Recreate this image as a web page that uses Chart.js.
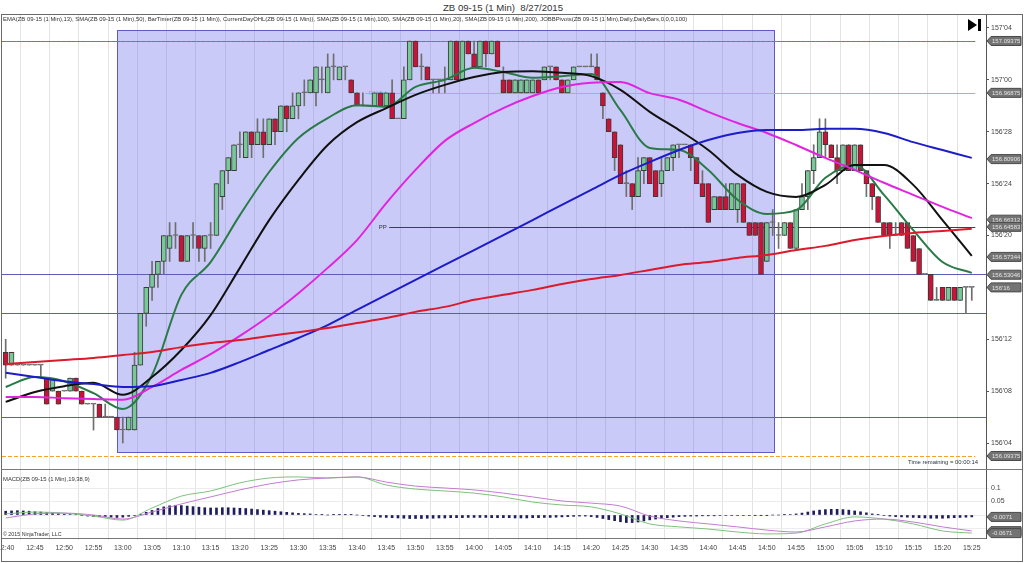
<!DOCTYPE html>
<html>
<head>
<meta charset="utf-8">
<title>ZB 09-15 (1 Min) 8/27/2015</title>
<script src="https://cdn.jsdelivr.net/npm/chart.js@4.4.1/dist/chart.umd.min.js"></script>
<style>
  body { margin: 0; background: #fff; font-family: "Liberation Sans", Arial, sans-serif; color: #333; }
  #page { position: relative; width: 1024px; height: 563px; overflow: hidden; background: #fff; }
  .abs { position: absolute; white-space: nowrap; line-height: 1; }
  .small { font-size: 5.9px; color: #333; }
  canvas { display: block; }
</style>
</head>
<body>
<div id="page">
  <div class="abs" style="left:0;top:3px;width:1006px;text-align:center;font-size:9.6px;color:#333;">ZB 09-15 (1 Min)&nbsp; 8/27/2015</div>
  <div class="abs" style="left:0;top:14px;"><canvas id="priceChart" width="1024" height="455"></canvas></div>
  <div class="abs" style="left:0;top:469px;"><canvas id="macdChart" width="1024" height="94"></canvas></div>
  <div class="abs" style="left:1px;top:14px;width:1020px;height:546px;border:1px solid #6a6a6a;"></div>
  <div class="abs" style="left:1px;top:469px;width:1021px;height:1px;background:#7a7a7a;"></div>
  <div class="abs small" style="left:3px;top:17px;">EMA(ZB 09-15 (1 Min),13), SMA(ZB 09-15 (1 Min),50), BarTimer(ZB 09-15 (1 Min)), CurrentDayOHL(ZB 09-15 (1 Min)), SMA(ZB 09-15 (1 Min),100), SMA(ZB 09-15 (1 Min),20), SMA(ZB 09-15 (1 Min),200), JOBBPivots(ZB 09-15 (1 Min),Daily,DailyBars,0,0,0,100)</div>
  <div class="abs small" style="left:908px;top:460px;">Time remaining = 00:00:14</div>
  <div class="abs small" style="left:3px;top:477px;">MACD(ZB 09-15 (1 Min),19,38,9)</div>
  <div class="abs small" style="left:3px;top:532px;font-size:5.3px;">© 2015 NinjaTrader, LLC</div>
  <div class="abs" style="left:968px;top:19px;width:0;height:0;border-left:9px solid #000;border-top:6px solid transparent;border-bottom:6px solid transparent;"></div>
  <div class="abs" style="left:978px;top:19px;width:3px;height:12px;background:#000;"></div>
</div>
<script>
// ZB 09-15 1 minute bars, 8/27/2015, 12:40 - 15:25
const sessionStart = 12 * 60 + 40;
const basePrice = 156; // candle quotes below are in 32nds above 156'00

// [open, high, low, close] in 32nds, one row per minute from 12:40
const ohlc = [
  [11,12,9,10],[10,11,10,11],[10,10,10,10],[10,10,10,10],[10,10,10,10],[10,10,10,10],[10,10,9,10],[9,9,7,7],
  [8,9,8,9],[8,8,7,7],[8,8,8,8],[8,9,8,9],[9,9,8,8],[8,8,7,7],[7,7,7,7],[7,7,5,7],
  [7,7,6,6],[6,7,6,6],[6,6,6,6],[6,6,5,5],[5,6,4,5],[5,6,5,6],[5,11,5,10],[10,14,10,14],
  [14,16,13,16],[16,18,15,17],[17,18,16,18],[18,20,17,20],[19,21,18,20],[20,21,19,20],[20,20,18,18],[18,20,18,20],
  [20,21,19,20],[20,20,18,19],[19,20,18,20],[20,21,19,20],[20,24,20,24],[23,25,22,25],[25,26,24,26],[25,27,25,27],
  [27,28,26,27],[26,28,26,28],[28,28,26,27],[27,29,27,28],[28,29,26,27],[27,29,27,29],[29,29,27,28],[28,30,28,30],
  [30,30,28,29],[29,31,29,30],[30,31,29,31],[31,32,30,31],[31,32,31,32],[31,33,30,33],[32,33,31,32],[31,34,31,33],
  [33,34,32,33],[32,33,32,33],[33,33,32,33],[32,32,31,31],[31,31,30,30],[30,31,30,30],[30,30,30,30],[30,31,30,31],
  [31,31,30,30],[30,31,30,31],[31,32,29,29],[29,29,29,29],[29,33,29,32],[32,35,32,35],[35,35,33,33],[33,34,32,33],
  [33,33,32,32],[32,32,31,32],[32,32,31,32],[32,33,31,32],[32,35,32,35],[35,35,32,32],[32,35,32,35],[35,35,34,34],
  [34,35,33,33],[33,35,33,35],[35,35,33,34],[34,35,34,35],[35,35,33,33],[32,33,31,31],[32,32,31,31],[31,32,31,32],
  [31,32,31,32],[31,32,31,32],[31,32,31,32],[32,32,31,31],[32,33,32,33],[33,33,32,33],[33,33,32,32],[32,32,31,31],
  [31,32,31,32],[32,33,32,33],[33,33,33,33],[33,33,33,33],[33,34,33,33],[33,34,32,32],[31,31,29,30],[29,29,28,28],
  [28,28,25,26],[27,27,24,24],[24,25,23,24],[24,24,22,23],[23,26,23,25],[25,26,24,26],[26,26,24,24],[25,25,23,23],
  [24,26,23,25],[25,26,25,26],[26,27,25,27],[27,27,26,27],[27,27,27,27],[27,27,25,26],[26,26,24,24],[24,25,23,23],
  [24,24,21,21],[22,23,22,23],[23,23,22,22],[23,24,22,22],[22,24,22,24],[22,24,21,24],[24,24,21,21],[21,21,20,20],
  [21,21,20,20],[21,21,17,17],[18,21,18,21],[21,22,20,21],[20,21,19,20],[20,21,20,21],[21,21,19,19],[19,22,19,22],
  [22,24,22,23],[23,25,22,25],[25,27,24,26],[26,29,26,28],[28,29,26,27],[27,27,26,26],[26,27,24,25],[25,27,25,27],
  [27,27,25,25],[25,27,25,27],[27,27,25,25],[25,25,23,24],[24,24,22,23],[23,23,21,21],[21,21,20,20],[21,21,19,20],
  [20,21,20,20],[21,21,20,20],[21,21,19,19],[20,20,18,18],[19,19,17,17],[17,17,17,17],[17,17,15,15],[15,16,15,15],
  [16,16,15,15],[15,16,15,16],[16,16,15,15],[15,16,15,16],[16,16,14,16],[16,16,15,16]
];

// moving averages, read every 5 minutes (minutes after 12:40)
const maTimes = [0,5,10,15,20,25,30,35,40,45,50,55,60,65,70,75,80,85,90,95,100,105,110,115,120,125,130,135,140,145,150,155,160,165];
const emaGreen = [156.260,156.284,156.274,156.245,156.207,156.289,156.482,156.561,156.674,156.778,156.860,156.908,156.939,156.935,156.983,157.000,157.029,157.019,157.005,157.009,157.014,156.927,156.836,156.831,156.783,156.711,156.677,156.686,156.764,156.795,156.723,156.638,156.561,156.535];
const smaBlack = [156.224,156.248,156.262,156.270,156.241,156.284,156.349,156.433,156.547,156.662,156.759,156.843,156.898,156.932,156.964,156.988,157.007,157.019,157.021,157.017,157.009,156.976,156.923,156.879,156.831,156.771,156.730,156.718,156.747,156.795,156.795,156.747,156.662,156.576];
const smaMagenta = [156.236,156.236,156.233,156.231,156.229,156.260,156.301,156.339,156.383,156.431,156.486,156.547,156.614,156.703,156.783,156.853,156.896,156.932,156.961,156.983,156.993,156.995,156.968,156.952,156.923,156.896,156.872,156.843,156.812,156.783,156.752,156.723,156.694,156.667];
const smaBlue = [156.294,156.284,156.274,156.267,156.260,156.262,156.277,156.294,156.320,156.349,156.378,156.409,156.446,156.482,156.518,156.554,156.590,156.626,156.662,156.699,156.735,156.771,156.802,156.831,156.855,156.872,156.879,156.879,156.882,156.882,156.872,156.850,156.831,156.812];
const smaRed = [156.315,156.320,156.325,156.330,156.337,156.344,156.356,156.366,156.373,156.383,156.392,156.402,156.414,156.426,156.441,156.453,156.470,156.482,156.494,156.508,156.520,156.530,156.542,156.554,156.561,156.571,156.578,156.590,156.600,156.614,156.624,156.631,156.636,156.641];

// MACD(19,38,9)
const macdLine = [0.004,0.011,0.007,-0.004,-0.019,0.026,0.070,0.089,0.119,0.137,0.141,0.137,0.141,0.111,0.096,0.089,0.081,0.067,0.048,0.037,0.030,0.004,-0.033,-0.044,-0.052,-0.063,-0.070,-0.067,-0.033,-0.007,-0.015,-0.033,-0.059,-0.067];
const macdAvg = [-0.011,0.004,0.007,0,-0.015,0.011,0.041,0.067,0.093,0.115,0.130,0.137,0.141,0.122,0.107,0.100,0.093,0.081,0.067,0.052,0.044,0.033,-0.004,-0.022,-0.033,-0.044,-0.056,-0.063,-0.044,-0.022,-0.015,-0.026,-0.044,-0.059];
const macdDiff = [
  0.014,0.015,0.016,0.015,0.014,0.012,0.011,0.009,0.007,0.005,0.003,0.002,0.001,
  -0.002,-0.004,-0.005,-0.006,-0.007,-0.008,-0.009,-0.008,-0.005,
  -0.002,0.003,0.010,0.017,0.024,0.030,0.034,0.036,
  0.035,0.033,0.031,0.029,0.027,0.026,0.026,0.027,0.027,0.026,0.025,
  0.024,0.022,0.020,0.018,0.016,0.014,0.012,0.010,0.008,0.006,0.005,0.004,0.002,0.001,0,
  0.001,0.001,0.001,0.001,0,-0.002,-0.004,-0.006,-0.008,-0.009,
  -0.010,-0.011,-0.012,-0.013,-0.013,-0.013,-0.012,-0.012,-0.011,-0.011,-0.010,-0.010,-0.010,-0.009,-0.009,
  -0.009,-0.009,-0.010,-0.010,-0.010,-0.010,-0.011,-0.011,-0.011,-0.010,-0.010,-0.009,-0.009,-0.008,-0.007,-0.006,-0.005,-0.004,-0.004,-0.006,
  -0.009,-0.013,-0.017,-0.021,-0.025,-0.028,-0.028,-0.026,-0.022,-0.018,-0.015,-0.012,-0.010,-0.008,-0.006,
  -0.005,-0.004,-0.004,-0.003,-0.003,-0.003,-0.002,-0.002,-0.002,-0.002,-0.002,-0.002,-0.001,-0.001,-0.001,0,0,0.001,0.002,0.004,
  0.007,0.011,0.015,0.018,0.020,0.021,0.021,0.020,0.018,0.015,0.012,0.008,0.004,0.001,
  -0.002,-0.004,-0.006,-0.007,-0.008,-0.009,-0.010,-0.011,-0.012,-0.012,-0.012,-0.011,-0.010,-0.009,-0.008,-0.007
];

// axis ticks
const timeTicks = maTimes;
const priceTicks = [156.125,156.25,156.375,156.5,156.625,156.75,156.875,157,157.125];
const macdTicks = [-0.05,0,0.05,0.1];

// horizontal levels (CurrentDayOHL, JOBB pivots)
const dayHigh = 157.09375, dayLow = 156.09375;
const r1Mid = 156.96875, pivotPP = 156.64583;
const pivotBands = [156.53125, 156.4375, 156.1875];
// drawn region (minutes, prices)
const zone = { from: 19, to: 131.2, top: 157.12, bottom: 156.103 };

// value flags on the right axis
const priceTags = [157.09375, 156.96875, 156.80906, 156.66312, 156.64583, 156.57344, 156.53046, 156.09375];
const macdTags = [-0.0071, -0.0598, -0.0671];

const X_MIN = -0.63, X_MAX = 167.43;
const toPrice = t => basePrice + t / 32;
const fmt32 = v => {
  const whole = Math.floor(v + 1e-9);
  const n = Math.round((v - whole) * 32);
  return whole + "'" + String(n).padStart(2, "0");
};
const fmtTime = m => {
  const t = sessionStart + m;
  return Math.floor(t / 60) + ":" + String(t % 60).padStart(2, "0");
};
const AXIS_W = 38;
const tickFont = { family: "Liberation Sans, Arial, sans-serif", size: 7 };
// keep chart areas exactly where the panes are: no label padding
const noPad = s => { s.paddingTop = 0; s.paddingBottom = 0; s.paddingLeft = 0; s.paddingRight = 0; };

function drawTag(ctx, x0, y, text) {
  ctx.save();
  ctx.beginPath();
  ctx.moveTo(x0 + 1, y);
  ctx.lineTo(x0 + 5, y - 4.5);
  ctx.lineTo(x0 + 35, y - 4.5);
  ctx.lineTo(x0 + 35, y + 4.5);
  ctx.lineTo(x0 + 5, y + 4.5);
  ctx.closePath();
  ctx.fillStyle = "#737373";
  ctx.fill();
  ctx.strokeStyle = "#4a4a4a";
  ctx.lineWidth = 1;
  ctx.stroke();
  ctx.fillStyle = "#e4e4e4";
  ctx.font = "6px Liberation Sans, Arial, sans-serif";
  ctx.textBaseline = "middle";
  ctx.fillText(text, x0 + 6, y + 0.5);
  ctx.restore();
}

function hLine(ctx, xs, ys, price, fromMin, toMin, color, dash, width) {
  const y = Math.round(ys.getPixelForValue(price)) + 0.5;
  const x1 = fromMin == null ? xs.left : xs.getPixelForValue(fromMin);
  const x2 = toMin == null ? xs.right : xs.getPixelForValue(toMin);
  ctx.save();
  ctx.strokeStyle = color;
  ctx.lineWidth = width || 1;
  ctx.setLineDash(dash || []);
  ctx.beginPath();
  ctx.moveTo(x1, y);
  ctx.lineTo(x2, y);
  ctx.stroke();
  ctx.restore();
}

const priceDecor = {
  id: "priceDecor",
  beforeDatasetsDraw(chart) {
    const { ctx, chartArea, scales: { x, y } } = chart;
    ctx.save();
    ctx.beginPath();
    ctx.rect(chartArea.left, chartArea.top, chartArea.right - chartArea.left, chartArea.bottom - chartArea.top);
    ctx.clip();
    // drawn rectangle
    const rx1 = Math.round(x.getPixelForValue(zone.from)) + 0.5;
    const rx2 = Math.round(x.getPixelForValue(zone.to)) + 0.5;
    const ry1 = Math.round(y.getPixelForValue(zone.top)) + 0.5;
    const ry2 = Math.round(y.getPixelForValue(zone.bottom)) + 0.5;
    ctx.fillStyle = "rgba(90,90,235,0.32)";
    ctx.fillRect(rx1, ry1, rx2 - rx1, ry2 - ry1);
    ctx.strokeStyle = "#5c5cc8";
    ctx.lineWidth = 1;
    ctx.strokeRect(rx1, ry1, rx2 - rx1, ry2 - ry1);
    // pivot levels
    pivotBands.forEach(p => hLine(ctx, x, y, p, null, null, "#5d5db8"));
    hLine(ctx, x, y, dayHigh, null, 165.6, "#7a7ad0");
    hLine(ctx, x, y, dayHigh, null, 165.6, "#2f9a8a", [3, 2]);
    hLine(ctx, x, y, dayLow, null, 165.6, "#f0a22a", [4, 2]);
    hLine(ctx, x, y, r1Mid, 61.4, 165.6, "#6cc8ea");
    hLine(ctx, x, y, pivotPP, 65.5, 165.6, "#404040");
    ctx.font = "6px Liberation Sans, Arial, sans-serif";
    ctx.textBaseline = "middle";
    ctx.fillStyle = "#5ab8e0";
    ctx.fillText("R1Mid", x.getPixelForValue(62), y.getPixelForValue(r1Mid));
    ctx.fillStyle = "#333";
    ctx.fillText("PP", x.getPixelForValue(63.7), y.getPixelForValue(pivotPP));
    ctx.restore();
  },
  afterDraw(chart) {
    const { ctx, chartArea, scales: { y } } = chart;
    priceTags.forEach(v => drawTag(ctx, chartArea.right, y.getPixelForValue(v), v.toFixed(5)));
    const last = toPrice(ohlc[ohlc.length - 1][3]);
    drawTag(ctx, chartArea.right, y.getPixelForValue(last), fmt32(last));
  }
};

const macdDecor = {
  id: "macdDecor",
  afterDraw(chart) {
    const { ctx, chartArea, scales: { y } } = chart;
    macdTags.forEach(v => drawTag(ctx, chartArea.right, y.getPixelForValue(v), v.toFixed(4)));
  }
};

function lineSet(values, times, color, width) {
  return {
    type: "line",
    data: times.map((t, k) => ({ x: t, y: values[k] })),
    borderColor: color,
    borderWidth: width,
    pointRadius: 0,
    cubicInterpolationMode: "monotone",
    borderJoinStyle: "round",
    order: 1
  };
}

const candleColor = r => r[3] > r[0] ? "#78c898" : (r[3] < r[0] ? "#cc1236" : "#6a6a6a");

const xScaleBase = {
  type: "linear",
  min: X_MIN,
  max: X_MAX,
  offset: false,
  afterBuildTicks: s => { s.ticks = timeTicks.map(v => ({ value: v })); },
  grid: { color: "#e3e3e3", drawTicks: false },
  border: { display: false }
};

new Chart(document.getElementById("priceChart"), {
  type: "bar",
  data: {
    datasets: [
      {
        data: ohlc.map((r, i) => ({ x: i, y: [toPrice(r[2]), toPrice(r[1])] })),
        backgroundColor: "#6e6e6e",
        barThickness: 1,
        grouped: false,
        order: 6
      },
      {
        data: ohlc.map((r, i) => ({ x: i, y: [toPrice(r[0]), toPrice(r[3])] })),
        backgroundColor: ohlc.map(candleColor),
        borderColor: ohlc.map(r => r[3] === r[0] ? "#6a6a6a" : "#3a3a3a"),
        borderWidth: 1,
        borderSkipped: false,
        minBarLength: 1,
        barThickness: 5,
        grouped: false,
        order: 5
      },
      lineSet(smaRed, maTimes, "#dc1a2c", 2),
      lineSet(smaBlue, maTimes, "#1c1cc8", 2),
      lineSet(smaMagenta, maTimes, "#e024e0", 2),
      lineSet(smaBlack, maTimes, "#111111", 2),
      lineSet(emaGreen, maTimes, "#2a7a48", 2)
    ]
  },
  options: {
    responsive: false,
    animation: false,
    devicePixelRatio: 1,
    layout: { padding: { left: 2, right: 0, top: 0, bottom: 0 } },
    plugins: { legend: { display: false }, tooltip: { enabled: false } },
    scales: {
      x: Object.assign({}, xScaleBase, {
        ticks: { display: false },
        afterFit: s => { s.height = 0; noPad(s); }
      }),
      y: {
        position: "right",
        min: 157.125 - 441 / 415,
        max: 157.125 + 14 / 415,
        afterBuildTicks: s => { s.ticks = priceTicks.map(v => ({ value: v })); },
        ticks: { callback: v => fmt32(v), font: tickFont, color: "#444", padding: 2 },
        grid: { drawOnChartArea: false, drawTicks: true, tickLength: 3, color: "#555" },
        border: { color: "#555" },
        afterFit: s => { s.width = AXIS_W; noPad(s); }
      }
    }
  },
  plugins: [priceDecor]
});

new Chart(document.getElementById("macdChart"), {
  type: "bar",
  data: {
    datasets: [
      {
        data: macdDiff.map((v, i) => ({ x: i, y: v })),
        backgroundColor: "#1e1e5e",
        barThickness: 2,
        grouped: false,
        order: 5
      },
      lineSet(macdAvg, maTimes, "#c27cd2", 1),
      lineSet(macdLine, maTimes, "#7cc27c", 1)
    ]
  },
  options: {
    responsive: false,
    animation: false,
    devicePixelRatio: 1,
    layout: { padding: { left: 2, right: 0, top: 0, bottom: 0 } },
    plugins: { legend: { display: false }, tooltip: { enabled: false } },
    scales: {
      x: Object.assign({}, xScaleBase, {
        ticks: { callback: v => fmtTime(v), font: tickFont, color: "#444", maxRotation: 0, autoSkip: false, padding: 4 },
        grid: { color: "#e3e3e3", drawTicks: true, tickLength: 2 },
        border: { display: true, color: "#777" },
        afterFit: s => { s.height = 25; noPad(s); }
      }),
      y: {
        position: "right",
        min: -23 / 270,
        max: 46 / 270,
        afterBuildTicks: s => { s.ticks = macdTicks.map(v => ({ value: v })); },
        ticks: { callback: v => (v > 0 ? String(v) : ""), font: tickFont, color: "#444", padding: 2 },
        grid: { color: "#ececec", drawTicks: true, tickLength: 3 },
        border: { color: "#555" },
        afterFit: s => { s.width = AXIS_W; noPad(s); }
      }
    }
  },
  plugins: [macdDecor]
});
</script>
</body>
</html>
